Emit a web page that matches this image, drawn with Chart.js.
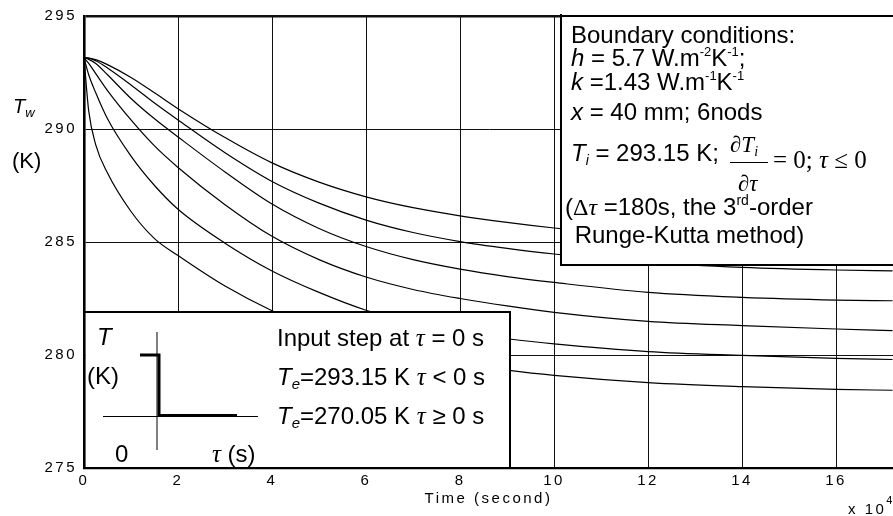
<!DOCTYPE html>
<html lang="en">
<head>
    <meta charset="UTF-8">
    <title>Wall node temperatures</title>
    <script src="https://cdn.jsdelivr.net/npm/chart.js"></script>
    <style>
        body {
            margin: 0;
            background: #fff;
        }
    </style>
</head>
<body>
    <canvas id="tempChart" width="893" height="516"></canvas>

    <script>
        // time in units of 10^4 s
        const times = [0, 0.1, 0.25, 0.5, 1, 1.5, 2, 3, 4, 5, 6, 7, 8, 9, 10, 12, 14, 16, 17.2];

        // node temperatures (K), node1 is the one closest to the outside surface
        const node1 = [293.15, 290.8, 289.3, 288.05, 286.35, 285.15, 284.4, 283.05, 281.96, 281.1, 280.45, 279.98, 279.62, 279.33, 279.1, 278.78, 278.6, 278.48, 278.44];
        const node2 = [293.15, 292.4, 291.6, 290.45, 288.8, 287.5, 286.45, 284.95, 283.72, 282.77, 281.98, 281.4, 281.0, 280.72, 280.49, 280.15, 279.98, 279.85, 279.8];
        const node3 = [293.15, 292.9, 292.45, 291.7, 290.4, 289.25, 288.3, 286.65, 285.25, 284.22, 283.45, 282.9, 282.5, 282.17, 281.89, 281.49, 281.3, 281.15, 281.08];
        const node4 = [293.15, 293.08, 292.9, 292.4, 291.35, 290.45, 289.65, 288.1, 286.68, 285.6, 284.8, 284.22, 283.8, 283.47, 283.21, 282.77, 282.55, 282.43, 282.4];
        const node5 = [293.15, 293.14, 293.02, 292.7, 291.95, 291.15, 290.4, 288.95, 287.68, 286.72, 285.97, 285.42, 285.02, 284.72, 284.47, 284.1, 283.88, 283.76, 283.72];
        const node6 = [293.15, 293.14, 293.07, 292.85, 292.28, 291.6, 290.9, 289.62, 288.5, 287.65, 287.0, 286.52, 286.16, 285.87, 285.62, 285.2, 285.0, 284.85, 284.8];

        const xTicks = [0, 2, 4, 6, 8, 10, 12, 14, 16];
        const yTicks = [275, 280, 285, 290, 295];

        const SANS = '"Liberation Sans", Arial, sans-serif';
        const SERIF = '"Liberation Serif", "Times New Roman", serif';

        // draw a row of text pieces with different fonts, each [text, font, dy]
        function runs(ctx, x, y, parts) {
            parts.forEach(p => {
                ctx.font = p[1];
                ctx.fillText(p[0], x, y + (p[2] || 0));
                x += ctx.measureText(p[0]).width;
            });
        }

        const spacedText = {
            id: 'spacedText',
            beforeDraw(chart) {
                chart.ctx.letterSpacing = '2.5px';
            }
        };

        const annotations = {
            id: 'annotations',
            afterDraw(chart) {
                const ctx = chart.ctx;
                const f24 = '24px ' + SANS;
                const i24 = 'italic 24px ' + SANS;
                const sup = '13px ' + SANS;
                const tau = 'italic 25px ' + SERIF;
                ctx.save();
                ctx.letterSpacing = '0px';
                ctx.textAlign = 'left';
                ctx.textBaseline = 'alphabetic';
                ctx.fillStyle = '#000';
                ctx.strokeStyle = '#000';

                // axis labels
                runs(ctx, 13, 113, [['T', 'italic 20px ' + SANS], ['w', 'italic 13px ' + SANS, 4]]);
                runs(ctx, 12, 168, [['(K)', '22px ' + SANS]]);
                ctx.letterSpacing = '2.5px';
                runs(ctx, 848, 514, [['x 10', '15px ' + SANS], ['4', '11px ' + SANS, -10]]);
                ctx.letterSpacing = '0px';

                // boundary condition box
                ctx.fillStyle = '#fff';
                ctx.fillRect(562, 16, 340, 248);
                ctx.lineWidth = 2;
                ctx.beginPath();
                ctx.moveTo(561, 14);
                ctx.lineTo(561, 265);
                ctx.lineTo(900, 265);
                ctx.moveTo(561, 16);
                ctx.lineTo(900, 16);
                ctx.stroke();
                ctx.fillStyle = '#000';
                runs(ctx, 571, 43, [['Boundary conditions:', f24]]);
                runs(ctx, 571, 66, [['h', i24], [' = 5.7 W.m', f24], ['-2', sup, -10], ['K', f24], ['-1', sup, -10], [';', f24]]);
                runs(ctx, 571, 90, [['k', i24], [' =1.43 W.m', f24], ['-1', sup, -10], ['K', f24], ['-1', sup, -10]]);
                runs(ctx, 571, 120, [['x', i24], [' = 40 mm; 6nods', f24]]);
                runs(ctx, 571, 161, [['T', i24], ['i', 'italic 14px ' + SANS, 4], [' = 293.15 K;', f24]]);
                runs(ctx, 730, 152, [['\u2202', 'italic 23px ' + SERIF], ['T', 'italic 23px ' + SERIF], ['i', 'italic 14px ' + SERIF, 4]]);
                ctx.lineWidth = 1;
                ctx.beginPath();
                ctx.moveTo(730, 162.5);
                ctx.lineTo(768, 162.5);
                ctx.stroke();
                runs(ctx, 738, 191, [['\u2202', 'italic 23px ' + SERIF], ['\u03C4', 'italic 23px ' + SERIF]]);
                runs(ctx, 773, 168, [['= 0; ', '25px ' + SERIF], ['\u03C4', tau], [' \u2264 0', '25px ' + SERIF]]);
                runs(ctx, 565, 215, [['(', f24], ['\u0394', '24px ' + SERIF], ['\u03C4', 'italic 24px ' + SERIF], [' =180s, the 3', f24], ['rd', '14px ' + SANS, -10], ['-order', f24]]);
                runs(ctx, 568, 243, [[' Runge-Kutta method)', f24]]);

                // input step box
                ctx.fillStyle = '#fff';
                ctx.fillRect(86, 313, 423, 154);
                ctx.lineWidth = 2;
                ctx.beginPath();
                ctx.moveTo(84, 312);
                ctx.lineTo(510, 312);
                ctx.lineTo(510, 468);
                ctx.stroke();
                ctx.lineWidth = 1;
                ctx.beginPath();
                ctx.moveTo(157, 332);
                ctx.lineTo(157, 450);
                ctx.moveTo(103, 416.5);
                ctx.lineTo(258, 416.5);
                ctx.stroke();
                ctx.lineWidth = 3;
                ctx.lineJoin = 'miter';
                ctx.beginPath();
                ctx.moveTo(140, 355);
                ctx.lineTo(159, 355);
                ctx.lineTo(159, 415.5);
                ctx.lineTo(237, 415.5);
                ctx.stroke();
                ctx.fillStyle = '#000';
                runs(ctx, 97, 345, [['T', i24]]);
                runs(ctx, 87, 384, [['(K)', f24]]);
                runs(ctx, 115, 462, [['0', f24]]);
                runs(ctx, 212, 462, [['\u03C4', tau], [' (s)', f24]]);
                runs(ctx, 277, 346, [['Input step at ', f24], ['\u03C4', tau], [' = 0 s', f24]]);
                runs(ctx, 277, 385, [['T', i24], ['e', 'italic 15px ' + SANS, 4], ['=293.15 K ', f24], ['\u03C4', tau], [' < 0 s', f24]]);
                runs(ctx, 277, 424, [['T', i24], ['e', 'italic 15px ' + SANS, 4], ['=270.05 K ', f24], ['\u03C4', tau], [' \u2265 0 s', f24]]);
                ctx.restore();
            }
        };

        const nodes = [node1, node2, node3, node4, node5, node6];
        const datasets = nodes.map((temps, n) => ({
            label: 'Node ' + (n + 1),
            data: times.map((t, i) => ({ x: t, y: temps[i] })),
            borderColor: '#000',
            borderWidth: 1.2,
            pointRadius: 0,
            fill: false,
            cubicInterpolationMode: 'monotone'
        }));

        const tickFont = { family: SANS, size: 15 };

        new Chart(document.getElementById('tempChart'), {
            type: 'line',
            data: { datasets: datasets },
            options: {
                responsive: false,
                animation: false,
                devicePixelRatio: 1,
                events: [],
                layout: { padding: { top: 14, right: 0, bottom: 0, left: 0 } },
                plugins: {
                    legend: { display: false },
                    tooltip: { enabled: false }
                },
                scales: {
                    x: {
                        type: 'linear',
                        min: 0,
                        max: 17.21,
                        afterBuildTicks: axis => { axis.ticks = xTicks.map(v => ({ value: v })); },
                        afterFit: axis => { axis.height = 48; },
                        ticks: {
                            autoSkip: false,
                            maxRotation: 0,
                            padding: 4,
                            color: '#000',
                            font: tickFont
                        },
                        grid: {
                            color: '#111',
                            lineWidth: 1,
                            drawTicks: false
                        },
                        border: { color: '#000', width: 2.3 },
                        title: {
                            display: true,
                            text: 'Time (second)',
                            color: '#000',
                            font: tickFont,
                            padding: { top: 0, bottom: 8 }
                        }
                    },
                    y: {
                        min: 275,
                        max: 295,
                        afterBuildTicks: axis => { axis.ticks = yTicks.map(v => ({ value: v })); },
                        afterFit: axis => { axis.width = 84; },
                        ticks: {
                            padding: 7,
                            color: '#000',
                            font: tickFont
                        },
                        grid: {
                            color: '#111',
                            lineWidth: ctx => (ctx.tick && ctx.tick.value === 295) ? 2.5 : 1,
                            drawTicks: false
                        },
                        border: { color: '#000', width: 2.6 }
                    }
                }
            },
            plugins: [spacedText, annotations]
        });
    </script>
</body>
</html>
